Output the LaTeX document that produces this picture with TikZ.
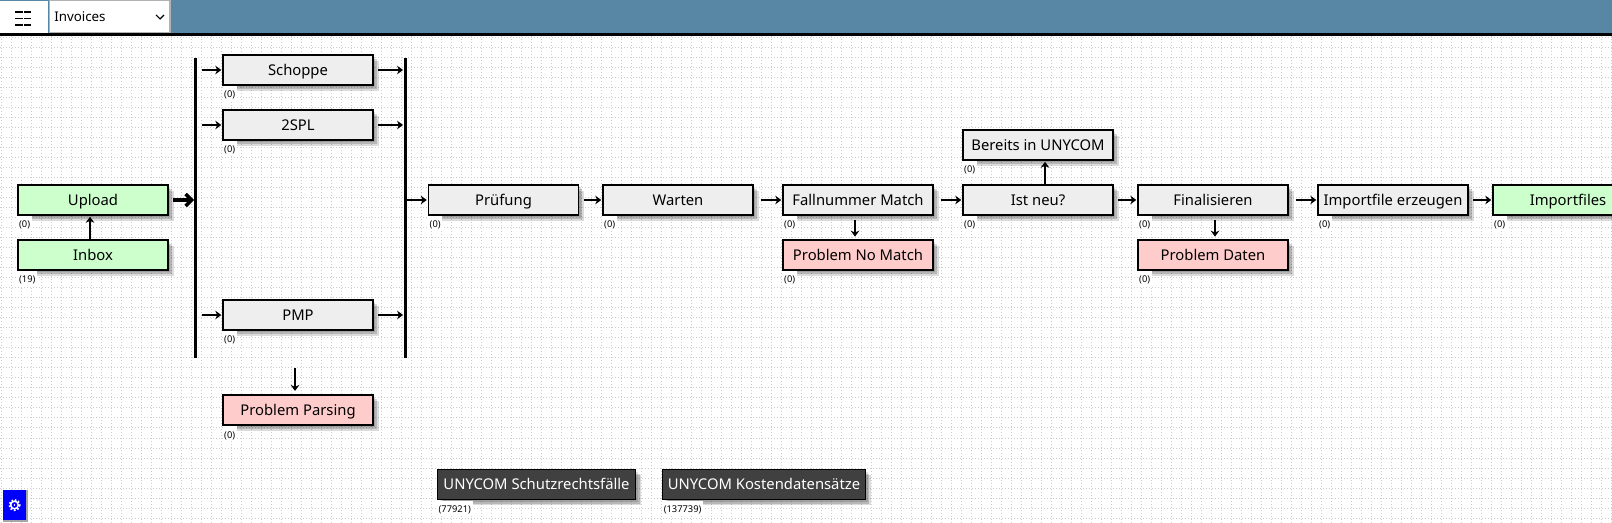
\documentclass[tikz,border=0pt]{standalone}
\usepackage{fontspec}
\setmainfont{Noto Sans}
\definecolor{headerteal}{RGB}{88,135,165}
\definecolor{stepgray}{RGB}{238,238,238}
\definecolor{stepgreen}{RGB}{204,255,204}
\definecolor{steppink}{RGB}{255,204,204}
\definecolor{stepdark}{RGB}{64,64,64}
\definecolor{gridgray}{RGB}{205,205,205}
\usetikzlibrary{calc, positioning, arrows.meta, shadows}

\begin{document}
\begin{tikzpicture}[
    x=0.75pt, y=-0.75pt,
    softshadow/.style={
      general shadow={fill=black, opacity=.13, shadow xshift=1.8pt, shadow yshift=-1.8pt},
      general shadow={fill=black, opacity=.16, shadow xshift=3pt, shadow yshift=-3pt},
      general shadow={fill=black, opacity=.14, shadow xshift=4.2pt, shadow yshift=-4.2pt}},
    stepbox/.style={draw=black, line width=1.1pt, fill=stepgray, softshadow, text=black,
      minimum width=112.4pt, minimum height=22.5pt, inner sep=0pt,
      text height=7.8pt, text depth=0pt, font=\fontsize{11.1}{13}\selectfont},
    endbox/.style={stepbox, fill=stepgreen},
    problembox/.style={stepbox, fill=steppink},
    databox/.style={stepbox, fill=stepdark, text=white},
    countlabel/.style={fill=white, inner xsep=1.2pt, inner ysep=1pt,
      text height=8pt, text depth=1.5pt, font=\fontsize{7}{8}\selectfont},
    barline/.style={fill=black, inner sep=0pt, minimum width=1.7pt, minimum height=225pt},
    arrow/.style={-{Stealth[length=4.5pt, width=6.5pt]}, line width=1.7pt, shorten >=0.8pt, shorten <=#1},
    arrow/.default=3.5pt,
    bigarrow/.style={-{Straight Barb[length=4.5pt, width=9pt]}, line width=2.6pt, shorten <=3.5pt},
  ]
    \clip (0,0) rectangle (1612,523);
    \fill[white] (0,0) rectangle (1612,523);
    % dotted grid
    \foreach \gx in {1,11,...,1611}
      \draw[gridgray, line width=.75pt, dash pattern=on .75pt off 1.5pt] (\gx,36) -- (\gx,523);
    \foreach \gy in {38,48,...,518}
      \draw[gridgray, line width=.75pt, dash pattern=on .75pt off 1.5pt] (0,\gy) -- (1612,\gy);

    % header
    \fill[headerteal] (0,0) rectangle (1612,33);
    \fill[white] (0,1) rectangle (48,33);
    \fill[gray!60] (49,0) rectangle (171,33);
    \fill[white] (50,1) rectangle (169,32);
    \fill[black] (0,33) rectangle (1612,36);
    \foreach \my in {12,18.5,25} {
      \draw[black, line width=1pt] (15,\my) -- (23,\my);
      \draw[black, line width=1pt] (24,\my) -- (31,\my);
    }
    \node[anchor=west, inner sep=0pt, font=\fontsize{10}{12}\selectfont] (invoices) at (54,17) {Invoices};
    \draw[black, line width=.8pt] (156,15) -- (160,19) -- (164,15);

    % settings button
    \fill[gray!70] (3,490) rectangle (28,522);
    \fill[blue] (3,490) rectangle (26,520);
    \draw[white, line width=1.1pt] (14.5,505) circle (3.8);
    \draw[white, line width=1.4pt, dash pattern=on 1.2pt off 1.4pt] (14.5,505) circle (5.2);
    \fill[white] (14.5,505) circle (.9);

    % left column
    \node[endbox] (upload) at (93,200) {Upload};
    \node[endbox] (inbox) at (93,255) {Inbox};
    \node[barline] (bar1) at (195.5,208) {};
    \node[barline] (bar2) at (405.5,208) {};
    \node[stepbox] (schoppe) at (298,70) {Schoppe};
    \node[stepbox] (spl) at (298,125) {2SPL};
    \node[stepbox] (pmp) at (298,315) {PMP};
    \node[problembox] (parsing) at (298,410) {Problem Parsing};

    % main row
    \node[stepbox] (pruefung) at (503.5,200) {Prüfung};
    \node[stepbox] (warten) at (678,200) {Warten};
    \node[stepbox] (fallnummer) at (858,200) {Fallnummer Match};
    \node[stepbox] (istneu) at (1038,200) {Ist neu?};
    \node[stepbox] (finalisieren) at (1213,200) {Finalisieren};
    \node[stepbox] (importfile) at (1393,200) {Importfile erzeugen};
    \node[endbox] (importfiles) at (1568,200) {Importfiles};
    \node[stepbox] (bereits) at (1038,145) {Bereits in UNYCOM};
    \node[problembox] (nomatch) at (858,255) {Problem No Match};
    \node[problembox] (daten) at (1213,255) {Problem Daten};

    % data sets
    \node[databox, minimum width=148.5pt] (schutz) at (536.5,484.7) {UNYCOM Schutzrechtsfälle};
    \node[databox, minimum width=152pt] (kosten) at (764,484.7) {UNYCOM Kostendatensätze};

    % counts
    \node[countlabel, below right=0pt and 0pt of upload.south west] (cupload) {(0)};
    \node[countlabel, below right=0pt and 0pt of inbox.south west] (cinbox) {(19)};
    \node[countlabel, below right=0pt and 0pt of schoppe.south west] (cschoppe) {(0)};
    \node[countlabel, below right=0pt and 0pt of spl.south west] (cspl) {(0)};
    \node[countlabel, below right=0pt and 0pt of pmp.south west] (cpmp) {(0)};
    \node[countlabel, below right=0pt and 0pt of parsing.south west] (cparsing) {(0)};
    \node[countlabel, below right=0pt and 0pt of pruefung.south west] (cpruefung) {(0)};
    \node[countlabel, below right=0pt and 0pt of warten.south west] (cwarten) {(0)};
    \node[countlabel, below right=0pt and 0pt of fallnummer.south west] (cfallnummer) {(0)};
    \node[countlabel, below right=0pt and 0pt of istneu.south west] (cistneu) {(0)};
    \node[countlabel, below right=0pt and 0pt of finalisieren.south west] (cfinalisieren) {(0)};
    \node[countlabel, below right=0pt and 0pt of importfile.south west] (cimportfile) {(0)};
    \node[countlabel, below right=0pt and 0pt of importfiles.south west] (cimportfiles) {(0)};
    \node[countlabel, below right=0pt and 0pt of bereits.south west] (cbereits) {(0)};
    \node[countlabel, below right=0pt and 0pt of nomatch.south west] (cnomatch) {(0)};
    \node[countlabel, below right=0pt and 0pt of daten.south west] (cdaten) {(0)};
    \node[countlabel, below right=0pt and 0pt of schutz.south west] (cschutz) {(77921)};
    \node[countlabel, below right=0pt and 0pt of kosten.south west] (ckosten) {(137739)};

    % connectors
    \draw[bigarrow] (upload) -- (upload -| bar1.west);
    \draw[arrow=0pt] ($(inbox.north)+(-3,0)$) -- ($(upload.south)+(-3,0)$);
    \draw[arrow] (bar1.east |- schoppe) -- (schoppe);
    \draw[arrow] (bar1.east |- spl) -- (spl);
    \draw[arrow] (bar1.east |- pmp) -- (pmp);
    \draw[arrow] (schoppe) -- (schoppe -| bar2.west);
    \draw[arrow] (spl) -- (spl -| bar2.west);
    \draw[arrow] (pmp) -- (pmp -| bar2.west);
    \draw[arrow=0pt] (bar2.east |- pruefung) -- (pruefung);
    \draw[arrow=28pt, shorten >=2.5pt] ($(pmp.south)+(-3,0)$) -- ($(parsing.north)+(-3,0)$);
    \draw[arrow] (pruefung) -- (warten);
    \draw[arrow=5.2pt] (warten) -- (fallnummer);
    \draw[arrow=5.2pt] (fallnummer) -- (istneu);
    \draw[arrow] (istneu) -- (finalisieren);
    \draw[arrow=5.2pt] (finalisieren) -- (importfile);
    \draw[arrow] (importfile) -- (importfiles);
    \draw[arrow=0pt] ($(istneu.north)+(7,0)$) -- ($(bereits.south)+(7,0)$);
    \draw[arrow=3.5pt, shorten >=2pt] ($(fallnummer.south)+(-3,0)$) -- ($(nomatch.north)+(-3,0)$);
    \draw[arrow=3.5pt, shorten >=2pt] ($(finalisieren.south)+(2,0)$) -- ($(daten.north)+(2,0)$);
\end{tikzpicture}
\end{document}
